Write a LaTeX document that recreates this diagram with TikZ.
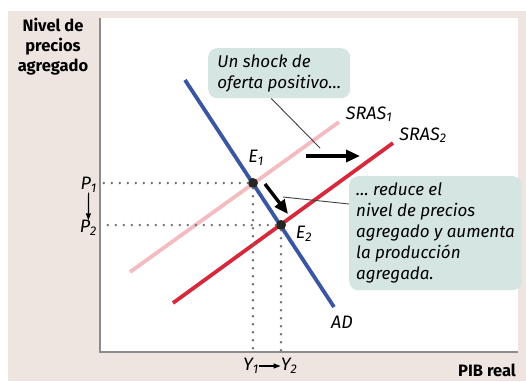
\documentclass[tikz,border=0pt]{standalone}
\usepackage{fontspec}
\setmainfont{Fira Sans}
\usetikzlibrary{positioning,arrows.meta,calc}
\definecolor{paper}{HTML}{EEE5E0}
\definecolor{notefill}{HTML}{D5E5E2}
\definecolor{adblue}{HTML}{3A56A2}
\definecolor{srasone}{HTML}{F3BCC1}
\definecolor{srastwo}{HTML}{D62A3C}
\definecolor{axgray}{HTML}{8C8C8C}
\definecolor{dotgray}{HTML}{6E6E6E}
\tikzset{
  >={Stealth[length=4mm]},
  curve/.style={line width=3.8pt},
  guide/.style={draw=dotgray, line width=2.6pt, dash pattern=on 0pt off 8pt, line cap=round},
  note/.style={fill=notefill, rounded corners=9pt, align=left, anchor=north west,
               font=\fontsize{17}{21}\selectfont\itshape, inner xsep=7pt, inner ysep=4pt},
  lbl/.style={font=\fontsize{18}{20}\selectfont\itshape, inner sep=0pt},
  axlbl/.style={font=\fontsize{16.5}{20}\selectfont\bfseries, inner sep=0pt, align=center},
  eq/.style={circle, fill=black!85, inner sep=0pt, minimum size=10pt},
  ptr/.style={draw=black!75, line width=0.9pt},
  shiftarrow/.style={->, line width=3.4pt, >={Triangle[length=14pt, width=12pt]}},
  smallarrow/.style={->, line width=1.2pt, >={Triangle[length=7pt, width=5pt]}},
}
\begin{document}
\begin{tikzpicture}[x=1pt, y=-1pt]
  \useasboundingbox (0,0) rectangle (526,381);
  % paper and plot area
  \fill[white] (0,0) rectangle (526,381);
  \fill[paper] (8,11) rectangle (526,381);
  \fill[white] (100,18) rectangle (518,352);
  \coordinate (o) at (100,352);
  \draw[axgray, line width=1.6pt] (100,18) -- (o) -- (518,352);
  % curves
  \coordinate (ad-a) at (185,80);   \coordinate (ad-b) at (334,307);
  \coordinate (s1-a) at (130,272);  \coordinate (s1-b) at (339,122);
  \coordinate (s2-a) at (173,303);  \coordinate (s2-b) at (393,143);
  \draw[curve, srasone] (s1-a) -- (s1-b);
  \draw[curve, srastwo] (s2-a) -- (s2-b);
  \draw[curve, adblue] (ad-a) -- (ad-b);
  % equilibria
  \node[eq] (e1) at (253,183) {};
  \node[eq] (e2) at (281,225) {};
  \draw[guide] (e1) -- (e1 -| o);
  \draw[guide] (e2) -- (e2 -| o);
  \draw[guide] (e1) -- (e1 |- o);
  \draw[guide] (e2) -- (e2 |- o);
  % labels
  \node[lbl] (e1l) at (256,158) {E\textsubscript{1}};
  \node[lbl] (e2l) at (304,234) {E\textsubscript{2}};
  \node[lbl] (adl) at (342,322) {AD};
  \node[lbl] (s1l) at (369,114) {SRAS\textsubscript{1}};
  \node[lbl] (s2l) at (423,135) {SRAS\textsubscript{2}};
  \node[lbl, anchor=east] (p1) at (97,185) {P\textsubscript{1}};
  \node[lbl, anchor=east] (p2) at (97,228) {P\textsubscript{2}};
  \node[lbl] (y1) at (251,366) {Y\textsubscript{1}};
  \node[lbl] (y2) at (289,366) {Y\textsubscript{2}};
  \draw[smallarrow] (p1) -- (p2);
  \draw[smallarrow] (y1) -- (y2);
  \node[axlbl] (vert) at (53,47) {Nivel de\\precios\\agregado};
  \node[axlbl] (horiz) at (487,370) {PIB real};
  % shifts
  \coordinate (sh-a) at (306,156);  \coordinate (sh-b) at (360,156);
  \draw[shiftarrow] (sh-a) -- (sh-b);
  \coordinate (mv-a) at (265,184);  \coordinate (mv-b) at (288,214);
  \draw[shiftarrow] (mv-a) -- (mv-b);
  % notes
  \node[note, minimum width=142pt, minimum height=50pt] (n1) at (208,48)
    {Un shock de\\oferta positivo…};
  \node[note, minimum width=163pt, minimum height=114pt] (n2) at (349,176)
    {… reduce el\\nivel de precios\\agregado y aumenta\\la producción\\agregada.};
  \coordinate (tip1) at (320,148);
  \coordinate (tip2) at (283,197);
  \draw[ptr] ([xshift=-8pt]n1.south) -- (tip1);
  \draw[ptr] ([yshift=-28pt]n2.north west) -- (tip2);
\end{tikzpicture}
\end{document}
